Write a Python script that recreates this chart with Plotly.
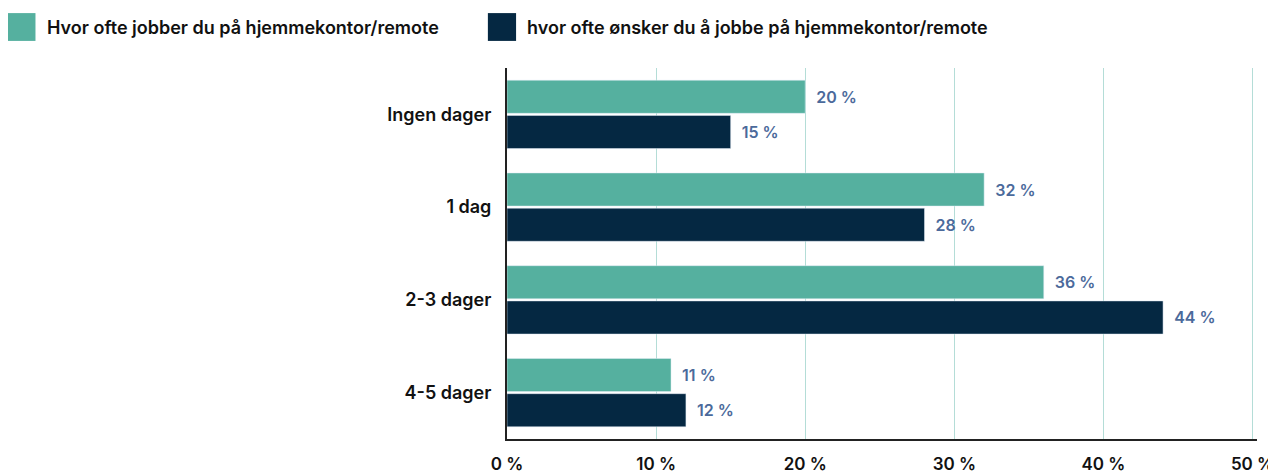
import plotly.graph_objects as go

categories = ["Ingen dager", "1 dag", "2-3 dager", "4-5 dager"]
series_names = [
    "Hvor ofte jobber du på hjemmekontor/remote",
    "hvor ofte ønsker du å jobbe på hjemmekontor/remote",
]
jobber = [20, 32, 36, 11]
onsker = [15, 28, 44, 12]
x_ticks = [0, 10, 20, 30, 40, 50]
x_tick_labels = [f"{v} %" for v in x_ticks]

teal = "#55b09f"
navy = "#052842"
label_blue = "#4b6a9b"
font_family = "Inter, 'Open Sans', sans-serif"

fig = go.Figure()
for name, vals, color in [(series_names[0], jobber, teal), (series_names[1], onsker, navy)]:
    fig.add_trace(go.Bar(
        y=categories,
        x=vals,
        name=name,
        orientation="h",
        marker_color=color,
        text=[f"\u00a0\u00a0{v} %" for v in vals],
        textposition="outside",
        textfont=dict(family=font_family, size=16, color=label_blue, weight=600),
        cliponaxis=False,
        hoverinfo="x+y",
    ))

# custom legend with large squares (page body has an 8px margin)
legend_items = [
    (series_names[0], teal, -0.6662, -0.6287, -0.6166),
    (series_names[1], navy, -0.0255, 0.0121, 0.0241),
]
for name, color, x0, x1, tx in legend_items:
    fig.add_shape(type="rect", xref="paper", yref="paper",
                  x0=x0, x1=x1, y0=1.073, y1=1.148,
                  fillcolor=color, line_width=0)
    fig.add_annotation(xref="paper", yref="paper", x=tx, y=1.110,
                       text=name, showarrow=False, xanchor="left", yanchor="middle",
                       font=dict(family=font_family, size=18, color="#111111", weight=600))

fig.update_layout(
    width=1268,
    height=465,
    margin=dict(l=499, r=19, t=60, b=34),
    barmode="group",
    bargap=0.24,
    bargroupgap=0.06,
    showlegend=False,
    plot_bgcolor="white",
    paper_bgcolor="white",
    font=dict(family=font_family, size=16, color="#111111"),
)
fig.update_xaxes(
    range=[0, 50.3],
    tickvals=x_ticks,
    ticktext=x_tick_labels,
    ticklabeloverflow="allow",
    showgrid=True,
    gridcolor="#b4ddd7",
    gridwidth=1,
    zeroline=False,
    showline=True,
    linecolor="#222222",
    linewidth=2,
    ticks="outside",
    ticklen=9,
    tickcolor="rgba(0,0,0,0)",
    tickfont=dict(family=font_family, size=17, color="#111111", weight=600),
    automargin=False,
)
fig.update_yaxes(
    autorange="reversed",
    showgrid=False,
    showline=True,
    linecolor="#222222",
    linewidth=2,
    ticks="outside",
    ticklen=10,
    tickcolor="rgba(0,0,0,0)",
    tickfont=dict(family=font_family, size=18, color="#111111", weight=600),
    automargin=False,
)

fig.write_html("out.html")
